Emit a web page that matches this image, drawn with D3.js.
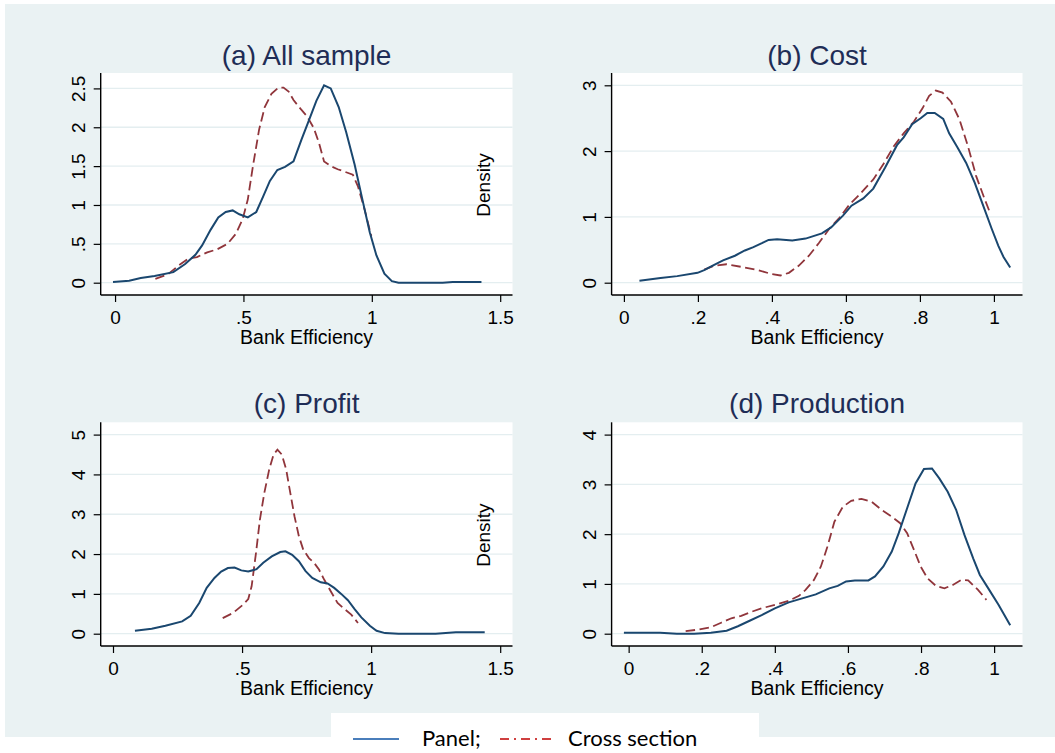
<!DOCTYPE html>
<html>
<head>
<meta charset="utf-8">
<script src="https://cdn.jsdelivr.net/npm/d3@7"></script>
<style>
  html, body { margin: 0; padding: 0; background: #ffffff; }
  svg { display: block; }
</style>
</head>
<body>
<svg id="chart" width="1055" height="753"></svg>
<script>
// ---------- DATA ----------
const panelTitles = ["(a) All sample", "(b) Cost", "(c) Profit", "(d) Production"];
const xAxisTitle = "Bank Efficiency";
const yAxisTitle = "Density";
const legendLabels = ["Panel;", "Cross section"];

const xTicksWide = [0, 0.5, 1, 1.5];
const xTickLabelsWide = ["0", ".5", "1", "1.5"];
const xTicksNarrow = [0, 0.2, 0.4, 0.6, 0.8, 1];
const xTickLabelsNarrow = ["0", ".2", ".4", ".6", ".8", "1"];

const yTicksA = [0, 0.5, 1, 1.5, 2, 2.5];
const yTickLabelsA = ["0", ".5", "1", "1.5", "2", "2.5"];
const yTicksB = [0, 1, 2, 3];
const yTicksC = [0, 1, 2, 3, 4, 5];
const yTicksD = [0, 1, 2, 3, 4];

// (a) All sample
const allPanelX = [-0.008,0.055,0.10,0.154,0.227,0.273,0.313,0.339,0.372,0.402,0.431,0.458,0.484,0.517,0.55,0.577,0.603,0.632,0.662,0.695,0.726,0.755,0.784,0.814,0.840,0.871,0.90,0.933,0.966,0.992,1.018,1.049,1.078,1.104,1.197,1.276,1.315,1.427];
const allPanelY = [0.01,0.025,0.06,0.085,0.136,0.24,0.36,0.48,0.68,0.84,0.91,0.93,0.88,0.84,0.91,1.11,1.31,1.45,1.49,1.56,1.84,2.09,2.34,2.54,2.50,2.26,1.94,1.52,1.03,0.65,0.35,0.115,0.02,0.0,0.0,0.0,0.008,0.008];
const allCrossX = [0.157,0.207,0.247,0.286,0.319,0.359,0.398,0.438,0.471,0.497,0.517,0.537,0.561,0.583,0.609,0.636,0.656,0.676,0.695,0.722,0.748,0.774,0.794,0.814,0.840,0.867,0.893,0.926,0.946,0.972,0.998];
const allCrossY = [0.05,0.11,0.22,0.31,0.33,0.39,0.43,0.50,0.63,0.82,1.07,1.50,1.97,2.26,2.43,2.51,2.51,2.46,2.35,2.24,2.14,1.99,1.80,1.56,1.50,1.46,1.43,1.39,1.24,0.94,0.60];

// (b) Cost
const costPanelX = [0.042,0.099,0.144,0.199,0.217,0.24,0.268,0.30,0.327,0.35,0.373,0.391,0.414,0.455,0.491,0.535,0.56,0.592,0.615,0.647,0.674,0.706,0.738,0.756,0.779,0.802,0.820,0.840,0.863,0.879,0.902,0.925,0.948,0.971,0.994,1.012,1.026,1.044];
const costPanelY = [0.03,0.07,0.10,0.15,0.19,0.26,0.34,0.41,0.49,0.54,0.60,0.65,0.66,0.64,0.67,0.75,0.84,1.02,1.17,1.28,1.43,1.75,2.09,2.21,2.41,2.50,2.58,2.58,2.49,2.27,2.05,1.82,1.52,1.17,0.82,0.56,0.39,0.23];
const costCrossX = [0.217,0.245,0.277,0.318,0.363,0.40,0.423,0.446,0.473,0.50,0.528,0.555,0.583,0.61,0.637,0.674,0.701,0.729,0.756,0.784,0.807,0.825,0.843,0.861,0.884,0.907,0.93,0.952,0.975,0.989];
const costCrossY = [0.20,0.26,0.28,0.24,0.19,0.13,0.11,0.15,0.26,0.41,0.61,0.82,0.99,1.19,1.34,1.57,1.80,2.07,2.27,2.45,2.65,2.84,2.92,2.89,2.75,2.48,2.07,1.62,1.27,1.07];

// (c) Profit
const profitPanelX = [0.085,0.15,0.203,0.268,0.301,0.334,0.363,0.393,0.419,0.445,0.471,0.497,0.524,0.556,0.582,0.615,0.648,0.668,0.694,0.72,0.746,0.772,0.805,0.831,0.857,0.884,0.91,0.936,0.962,0.995,1.021,1.054,1.106,1.25,1.328,1.44];
const profitPanelY = [0.075,0.125,0.20,0.31,0.45,0.77,1.15,1.40,1.56,1.65,1.66,1.59,1.56,1.62,1.78,1.94,2.05,2.07,1.98,1.82,1.57,1.40,1.29,1.26,1.15,1.0,0.84,0.62,0.41,0.20,0.075,0.015,0.0,0.0,0.035,0.035];
const profitCrossX = [0.425,0.465,0.504,0.524,0.537,0.554,0.569,0.586,0.605,0.622,0.637,0.654,0.671,0.687,0.703,0.72,0.737,0.759,0.779,0.798,0.818,0.844,0.87,0.897,0.923,0.949];
const profitCrossY = [0.39,0.52,0.73,0.87,1.19,2.03,2.86,3.53,4.12,4.50,4.62,4.50,4.12,3.53,2.95,2.45,2.11,1.90,1.78,1.61,1.36,1.06,0.77,0.62,0.48,0.27];

// (d) Production
const prodPanelX = [-0.013,0.086,0.132,0.179,0.225,0.268,0.299,0.331,0.364,0.40,0.438,0.475,0.512,0.549,0.572,0.595,0.619,0.656,0.674,0.697,0.72,0.739,0.762,0.785,0.808,0.83,0.85,0.873,0.896,0.919,0.943,0.961,0.984,1.012,1.044];
const prodPanelY = [0.02,0.02,0.0,0.0,0.02,0.06,0.15,0.26,0.375,0.51,0.63,0.71,0.79,0.91,0.96,1.05,1.07,1.07,1.15,1.35,1.65,2.02,2.52,3.02,3.31,3.32,3.12,2.85,2.49,1.98,1.51,1.18,0.91,0.58,0.17];
const prodCrossX = [0.156,0.188,0.225,0.253,0.281,0.308,0.336,0.364,0.40,0.438,0.466,0.484,0.507,0.526,0.544,0.563,0.586,0.609,0.637,0.665,0.692,0.72,0.743,0.762,0.781,0.799,0.818,0.841,0.864,0.887,0.91,0.929,0.956,0.979];
const prodCrossY = [0.05,0.08,0.13,0.22,0.31,0.36,0.44,0.51,0.58,0.66,0.76,0.88,1.08,1.35,1.75,2.25,2.55,2.67,2.71,2.65,2.49,2.35,2.22,2.02,1.68,1.35,1.11,0.96,0.91,0.98,1.08,1.07,0.88,0.68];

// ---------- LAYOUT / STYLE ----------
const panels = [
  { title: panelTitles[0], box: {l: 100.7, r: 512.5, t: 73, b: 295}, titleY: 65,
    xt: xTicksWide, xtl: xTickLabelsWide, yt: yTicksA, ytl: yTickLabelsA,
    px: allPanelX, py: allPanelY, cx: allCrossX, cy: allCrossY, density: true },
  { title: panelTitles[1], box: {l: 611.6, r: 1022.5, t: 73, b: 295}, titleY: 65,
    xt: xTicksNarrow, xtl: xTickLabelsNarrow, yt: yTicksB, ytl: yTicksB.map(String),
    px: costPanelX, py: costPanelY, cx: costCrossX, cy: costCrossY, density: false },
  { title: panelTitles[2], box: {l: 100.7, r: 512.5, t: 422.3, b: 646}, titleY: 413,
    xt: xTicksWide, xtl: xTickLabelsWide, yt: yTicksC, ytl: yTicksC.map(String),
    px: profitPanelX, py: profitPanelY, cx: profitCrossX, cy: profitCrossY, density: true },
  { title: panelTitles[3], box: {l: 611.6, r: 1022.5, t: 422.3, b: 646}, titleY: 413,
    xt: xTicksNarrow, xtl: xTickLabelsNarrow, yt: yTicksD, ytl: yTicksD.map(String),
    px: prodPanelX, py: prodPanelY, cx: prodCrossX, cy: prodCrossY, density: false }
];

const BG = "#eaf2f3";
const GRID = "#e4eef0";
const BLUE = "#1a476f";
const RED = "#90353b";
const FONT = "'Liberation Sans', Arial, Helvetica, sans-serif";
const INNER = 12.3;

const svg = d3.select("#chart");
svg.append("rect").attr("x", 0).attr("y", 0).attr("width", 1055).attr("height", 753).attr("fill", "#ffffff");
svg.append("rect").attr("x", 5).attr("y", 4).attr("width", 1050).attr("height", 733).attr("fill", BG);

panels.forEach(p => {
  const b = p.box;
  const g = svg.append("g");
  const xDom = d3.extent(p.px.concat(p.cx, p.xt));
  const yDom = d3.extent(p.py.concat(p.cy, p.yt));
  const x = d3.scaleLinear().domain(xDom).range([b.l + INNER, b.r - INNER]);
  const y = d3.scaleLinear().domain(yDom).range([b.b - INNER, b.t + INNER]);

  // plot region
  g.append("rect").attr("x", b.l).attr("y", b.t).attr("width", b.r - b.l).attr("height", b.b - b.t).attr("fill", "#ffffff");

  // grid
  g.selectAll("line.grid").data(p.yt).enter().append("line")
    .attr("x1", b.l).attr("x2", b.r)
    .attr("y1", d => y(d)).attr("y2", d => y(d))
    .attr("stroke", GRID).attr("stroke-width", 1.3);

  // title
  g.append("text").attr("x", (b.l + b.r) / 2).attr("y", p.titleY)
    .attr("text-anchor", "middle").attr("font-family", FONT).attr("font-size", 28)
    .attr("fill", "#1f2d56").text(p.title);

  // curves
  const line = d3.line().x(d => x(d[0])).y(d => y(d[1])).curve(d3.curveLinear);
  g.append("path").datum(p.cx.map((v, i) => [v, p.cy[i]]))
    .attr("d", line).attr("fill", "none").attr("stroke", RED)
    .attr("stroke-width", 1.8).attr("stroke-dasharray", "9.5,4.5");
  g.append("path").datum(p.px.map((v, i) => [v, p.py[i]]))
    .attr("d", line).attr("fill", "none").attr("stroke", BLUE)
    .attr("stroke-width", 2);

  // x axis
  const xAxis = d3.axisBottom(x).tickValues(p.xt).tickFormat((d, i) => p.xtl[i]).tickSize(7).tickSizeOuter(0).tickPadding(9);
  const gx = g.append("g").attr("transform", `translate(0,${b.b})`).call(xAxis);
  gx.select(".domain").attr("d", `M${b.l},0H${b.r}`).attr("stroke", "#000").attr("stroke-width", 1.4);
  gx.selectAll(".tick line").attr("stroke", "#000").attr("stroke-width", 1.2);
  gx.selectAll(".tick text").attr("font-family", FONT).attr("font-size", 19).attr("fill", "#000");

  // y axis
  const yAxis = d3.axisLeft(y).tickValues(p.yt).tickFormat((d, i) => p.ytl[i]).tickSize(7).tickSizeOuter(0);
  const gy = g.append("g").attr("transform", `translate(${b.l},0)`).call(yAxis);
  gy.select(".domain").attr("d", `M0,${b.t}V${b.b}`).attr("stroke", "#000").attr("stroke-width", 1.4);
  gy.selectAll(".tick line").attr("stroke", "#000").attr("stroke-width", 1.2);
  gy.selectAll(".tick text")
    .attr("x", null).attr("dy", null)
    .attr("transform", "translate(-16,0) rotate(-90)")
    .attr("text-anchor", "middle")
    .attr("font-family", FONT).attr("font-size", 19).attr("fill", "#000");

  // x axis title
  g.append("text").attr("x", (b.l + b.r) / 2).attr("y", b.b + 49)
    .attr("text-anchor", "middle").attr("font-family", FONT).attr("font-size", 19.5)
    .attr("fill", "#000").text(xAxisTitle);

  // stray y title (drawn inside plot region as in reference)
  if (p.density) {
    const cyPos = (b.t + b.b) / 2 + 1;
    g.append("text").attr("transform", `translate(490,${cyPos}) rotate(-90)`)
      .attr("text-anchor", "middle").attr("font-family", FONT).attr("font-size", 19)
      .attr("fill", "#000").text(yAxisTitle);
  }
});

// legend
const lg = svg.append("g");
lg.append("rect").attr("x", 331).attr("y", 713).attr("width", 428).attr("height", 40).attr("fill", "#ffffff");
lg.append("line").attr("x1", 353).attr("x2", 399).attr("y1", 739).attr("y2", 739)
  .attr("stroke", "#4a7ebb").attr("stroke-width", 2);
lg.append("text").attr("x", 422).attr("y", 746).attr("font-family", "Lato, 'Open Sans', sans-serif")
  .attr("font-size", 22).attr("fill", "#000").text(legendLabels[0]);
lg.append("line").attr("x1", 500).attr("x2", 552).attr("y1", 739).attr("y2", 739)
  .attr("stroke", "#c00000").attr("stroke-width", 1.6).attr("stroke-dasharray", "9,5,2,5");
lg.append("text").attr("x", 568).attr("y", 746).attr("font-family", "Lato, 'Open Sans', sans-serif")
  .attr("font-size", 22).attr("fill", "#000").text(legendLabels[1]);
</script>
</body>
</html>
